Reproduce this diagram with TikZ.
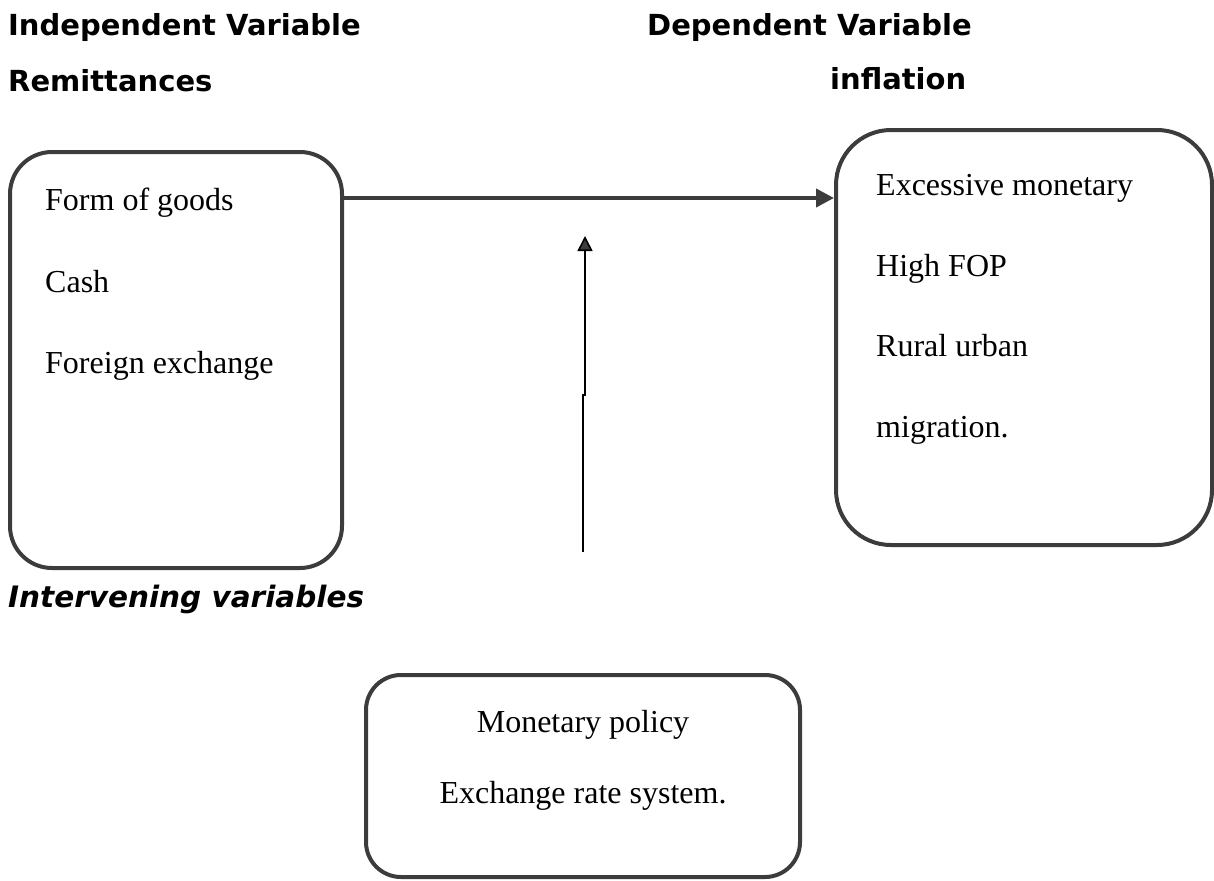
\documentclass[tikz,border=0pt]{standalone}
\usepackage{fontspec}
\setmainfont{Liberation Serif}
\newfontfamily\headfont{DejaVu Sans}
\usetikzlibrary{arrows.meta}
\definecolor{linegray}{HTML}{3C3C3C}
\begin{document}
\begin{tikzpicture}[x=1pt,y=-1pt,
  box/.style={draw=linegray, line width=4pt, minimum width=#1, inner sep=0pt},
  heading/.style={anchor=base west, inner sep=0pt, font=\headfont\bfseries\fontsize{29}{31}\selectfont},
  body/.style={anchor=base west, inner sep=0pt, font=\fontsize{32}{36}\selectfont},
  bodyc/.style={anchor=base, inner sep=0pt, font=\fontsize{32}{36}\selectfont},
  bigarrow/.style={draw=linegray, line width=4pt, -{Triangle[length=18pt,width=18pt,fill=linegray]}},
  thinarrow/.style={draw=black, line width=1.6pt, -{Triangle[length=15pt,width=15pt,fill=linegray]}}
]
\useasboundingbox (0,0) rectangle (1214,880);
% headings
\node[heading] (hind) at (8,36) {Independent Variable};
\node[heading] (hrem) at (8,92) {Remittances};
\node[heading] (hdep) at (647,36) {Dependent Variable};
\node[heading] (hinf) at (830,90) {inflation};
\node[heading, font=\headfont\bfseries\itshape\fontsize{29.5}{31}\selectfont] (hint) at (8,607) {Intervening variables};
% boxes
\node[box=332pt, minimum height=416pt, rounded corners=42pt] (left) at (176,360) {};
\node[box=376pt, minimum height=415pt, rounded corners=55pt] (right) at (1024,337.5) {};
\node[box=434pt, minimum height=202pt, rounded corners=35pt] (bottom) at (583,776) {};
% left texts
\node[body] (l1) at (45,210) {Form of goods};
\node[body] (l2) at (45,292) {Cash};
\node[body] (l3) at (45,373) {Foreign exchange};
% right texts
\node[body] (r1) at (876,195) {Excessive monetary};
\node[body] (r2) at (876,276) {High FOP};
\node[body] (r3) at (876,356) {Rural urban};
\node[body] (r4) at (876,437) {migration.};
% bottom texts
\node[bodyc] (b1) at (583,732) {Monetary policy};
\node[bodyc] (b2) at (583,803) {Exchange rate system.};
% connectors
\coordinate (hy) at (0,198);
\draw[bigarrow] (left.east |- hy) -- (right.west |- hy);
\coordinate (vb) at (583,552);
\coordinate (vj) at (583,395);
\coordinate (vk) at (585,395);
\coordinate (va) at (585,236);
\draw[thinarrow] (vb) -- (vj) -- (vk) -- (va);
\end{tikzpicture}
\end{document}
